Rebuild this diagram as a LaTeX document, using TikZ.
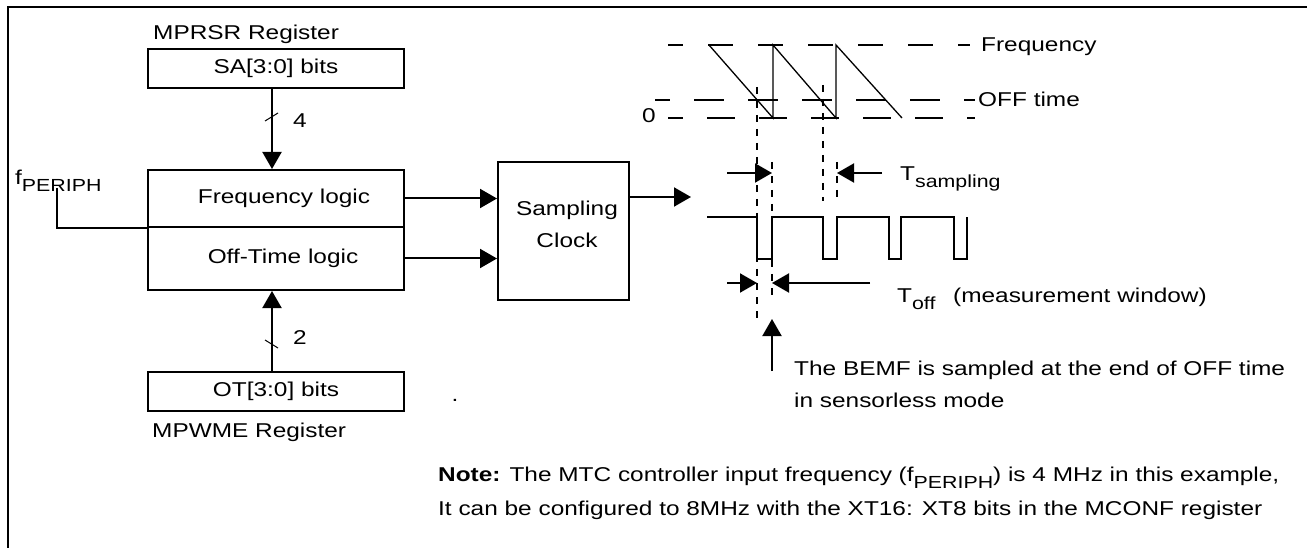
\documentclass[tikz,border=0pt]{standalone}
\usepackage{fontspec}
\setmainfont{Liberation Sans}[FakeStretch=1.22]
\usetikzlibrary{arrows.meta}
\newcommand{\lowsub}[1]{\raisebox{-7pt}{\fontsize{17.5}{17.5}\selectfont #1}}
\tikzset{
  regbox/.style={draw, line width=2pt, minimum width=256pt, inner sep=0pt},
  arr/.style={line width=2pt, -{Triangle[length=17pt,width=19pt]}},
  lbl/.style={inner sep=0pt, anchor=base west},
  vdash/.style={line width=1.5pt, dash pattern=on 7pt off 7pt},
}
\begin{document}
\begin{tikzpicture}[x=1pt,y=-1pt,font=\fontsize{20}{24}\selectfont]
  \useasboundingbox (0,0) rectangle (1307,548);
  % frame
  \draw[line width=1.5pt] (8,548) -- (8,7);
  \draw[line width=2.6pt] (7.25,7) -- (1307,7);

  % registers and logic blocks
  \node[lbl] (mprsr) at (153,40) {MPRSR Register};
  \node[regbox, minimum height=39pt] (sa) at (276,68.5) {SA[3:0] bits};
  \node[regbox, minimum height=57pt] (freq) at (276,198.5) {\hspace*{16pt}Frequency logic};
  \node[regbox, minimum height=63pt] (offt) at (276,258.5) {\hspace*{14pt}Off-Time logic};
  \node[regbox, minimum height=39pt] (ot) at (276,391.5) {OT[3:0] bits};
  \node[lbl] (mpwme) at (152,437) {MPWME Register};
  \draw[arr] ([xshift=-4pt]sa.south) -- ([xshift=-4pt]freq.north);
  \draw[line width=1pt] (265,121) -- (278,113);
  \node (n4) at (300,121) {4};
  \draw[arr] ([xshift=-4pt]ot.north) -- ([xshift=-4pt]offt.south);
  \draw[line width=1pt] (265,340) -- (278,348);
  \node (n2) at (300,338) {2};

  % clock input
  \node[lbl] (fp) at (15,185) {f\lowsub{PERIPH}};
  \coordinate (fpin) at (57,188);
  \draw[line width=2pt] (fpin) |- (freq.south west);

  % sampling clock
  \node[draw, line width=2pt, minimum width=131pt, minimum height=138pt] (samp) at (563.5,231) {};
  \node[align=center, font=\fontsize{20}{32}\selectfont] (samptxt) at (567,224) {Sampling\\Clock};
  \draw[arr] (freq.east) -- (freq.east -| samp.west);
  \draw[arr] (offt.east) -- (offt.east -| samp.west);
  \coordinate (win) at (691,197);
  \draw[arr] (samp.east |- win) -- (win);

  % levels and sawtooth
  \draw[line width=1.6pt, dash pattern=on 25pt off 25pt, dash phase=10pt] (668,45) -- (970,45);
  \node[lbl] (lfreq) at (981,52) {Frequency};
  \draw[line width=1.6pt, dash pattern=on 30pt off 24pt, dash phase=15pt] (655,100) -- (975,100);
  \node[lbl] (loff) at (978,107) {OFF time};
  \draw[line width=1.6pt, dash pattern=on 28pt off 24pt, dash phase=13pt] (668,118) -- (975,118);
  \node[lbl, anchor=base east] (lzero) at (656,123) {0};
  \draw[line width=1.3pt] (709,45) -- (773,118) -- (773,45) -- (836,118) -- (836,45) -- (902,118);

  % sampling instants
  \coordinate (ta) at (757,87);
  \coordinate (tb) at (772,162);
  \coordinate (tc) at (823,85);
  \coordinate (td) at (837,162);
  \draw[vdash] (ta) -- (757,323);
  \draw[vdash] (tb) -- (772,296);
  \draw[vdash] (tc) -- (823,201);
  \draw[vdash] (td) -- (837,201);
  \coordinate (tsl) at (727,173);
  \coordinate (tsr) at (882,173);
  \draw[arr] (tsl) -- (tsl -| tb);
  \draw[arr] (tsr) -- (tsr -| td);
  \node[lbl] (lts) at (900,181) {T\lowsub{sampling}};

  % pulse train
  \draw[line width=2pt] (707,217) -- (757,217) -- (757,259) -- (772,259) -- (772,217)
    -- (823,217) -- (823,259) -- (837,259) -- (837,217)
    -- (889,217) -- (889,259) -- (901,259) -- (901,217)
    -- (954,217) -- (954,259) -- (967,259) -- (967,217);

  % off time window
  \coordinate (tol) at (727,283);
  \coordinate (tor) at (870,283);
  \draw[arr] (tol) -- (tol -| ta);
  \draw[arr] (tor) -- (tor -| tb);
  \node[lbl] (lto) at (897,302) {T\lowsub{off}};
  \node[lbl] (lmw) at (953,302) {(measurement window)};
  \coordinate (bemf) at (772,371);
  \coordinate (bemftip) at (772,319);
  \draw[arr] (bemf) -- (bemftip);
  \node[lbl] (lb1) at (794,375) {The BEMF is sampled at the end of OFF time};
  \node[lbl] (lb2) at (794,407) {in sensorless mode};

  \node (dot) at (455,400) {.};

  % note
  \node[lbl] (note1) at (438,481) {\textbf{Note:} The MTC controller input frequency (f\lowsub{PERIPH}) is 4 MHz in this example,};
  \node[lbl] (note2) at (438,515) {It can be configured to 8MHz with the XT16: XT8 bits in the MCONF register};
\end{tikzpicture}
\end{document}
